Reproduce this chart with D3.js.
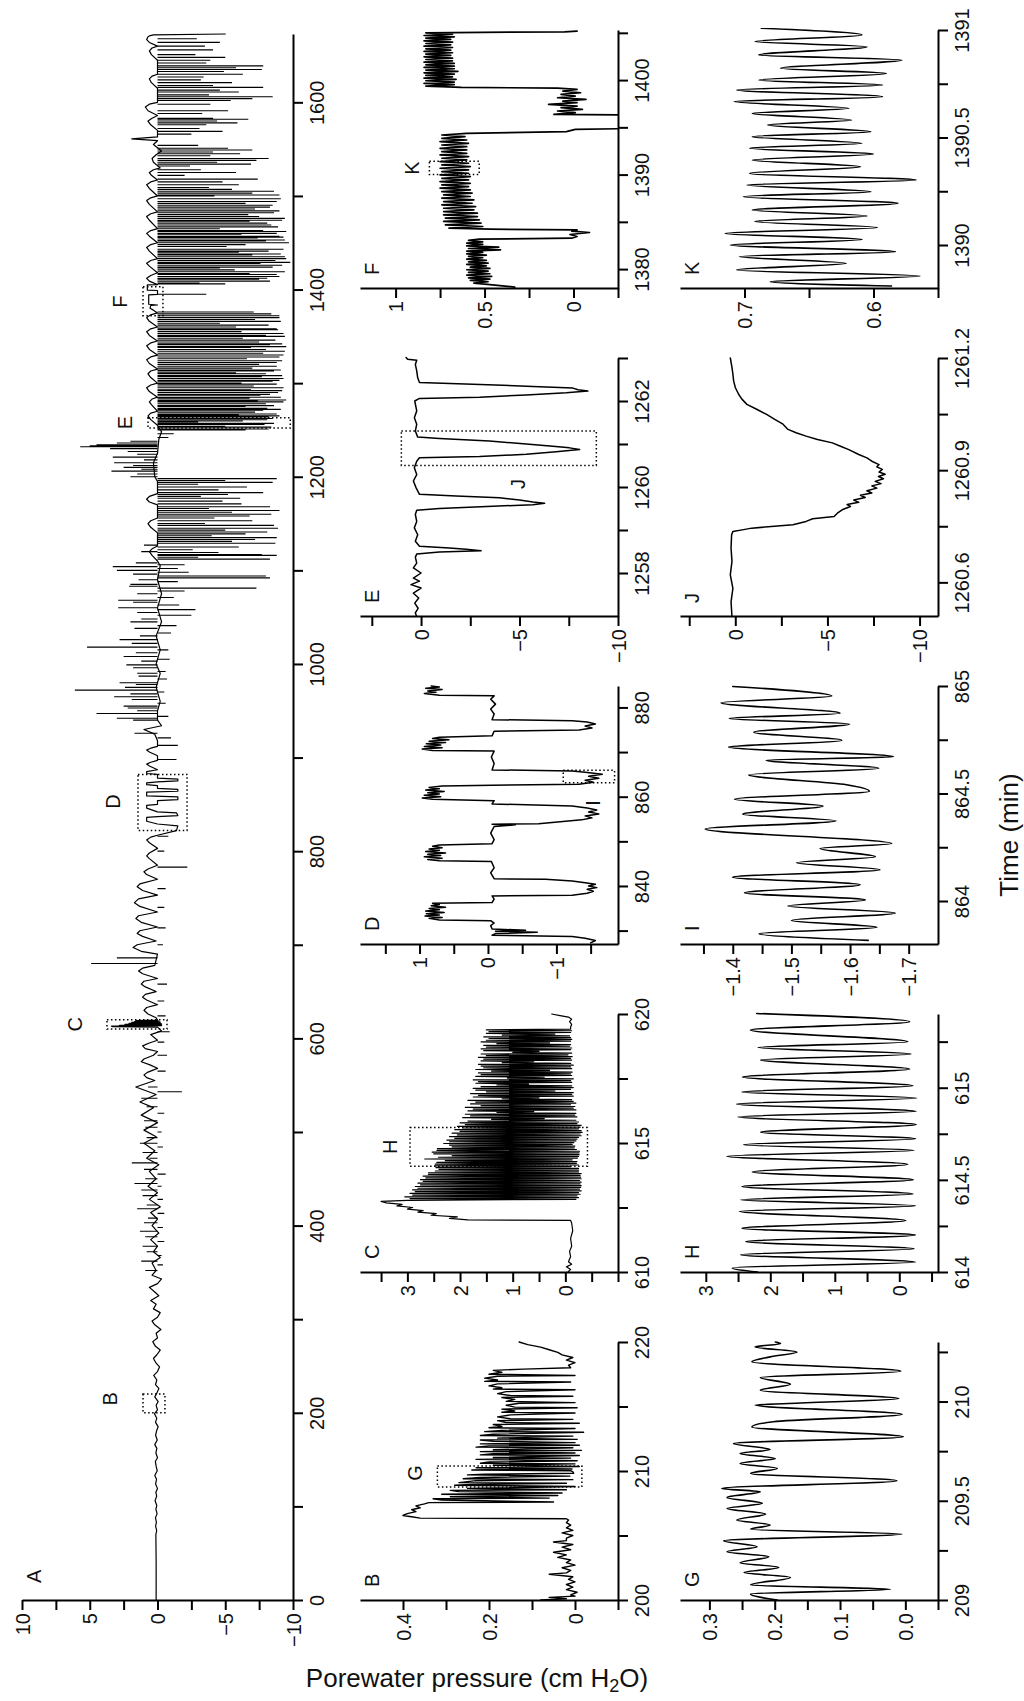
<!DOCTYPE html>
<html>
<head>
<meta charset="utf-8">
<script src="https://cdn.jsdelivr.net/npm/d3@7/dist/d3.min.js"></script>
<style>
html,body{margin:0;padding:0;background:#fff;}
svg{display:block;}
</style>
</head>
<body>
<svg id="chart" width="1024" height="1701"></svg>
<script>
// ================= DATA =================
// ---- tick values & labels ----
const aPTicks = [-10,-7.5,-5,-2.5,0,2.5,5,7.5,10];
const aPLabels = ["−10","−5","0","5","10"];
const aTTicks = [0,100,200,300,400,500,600,700,800,900,1000,1100,1200,1300,1400,1500,1600];
const aTLabels = ["0","200","400","600","800","1000","1200","1400","1600"];
const bPTicks = [-0.1,0,0.1,0.2,0.3,0.4];
const bPLabels = ["0","0.2","0.4"];
const bTTicks = [200,205,210,215,220];
const bTLabels = ["200","210","220"];
const cPTicks = [-1,-0.5,0,0.5,1,1.5,2,2.5,3,3.5];
const cPLabels = ["0","1","2","3"];
const cTTicks = [610,612.5,615,617.5,620];
const cTLabels = ["610","615","620"];
const dPTicks = [-1.5,-1,-0.5,0,0.5,1,1.5];
const dPLabels = ["−1","0","1"];
const dTTicks = [830,840,850,860,870,880];
const dTLabels = ["840","860","880"];
const ePTicks = [-10,-7.5,-5,-2.5,0,2.5];
const ePLabels = ["−10","−5","0"];
const eTTicks = [1258,1259,1260,1261,1262,1263];
const eTLabels = ["1258","1260","1262"];
const fPTicks = [-0.25,0,0.25,0.5,0.75,1];
const fPLabels = ["0","0.5","1"];
const fTTicks = [1380,1385,1390,1395,1400,1405];
const fTLabels = ["1380","1390","1400"];
const gPTicks = [-0.05,0,0.05,0.1,0.15,0.2,0.25,0.3];
const gPLabels = ["0.0","0.1","0.2","0.3"];
const gTTicks = [209,209.25,209.5,209.75,210,210.25];
const gTLabels = ["209","209.5","210"];
const hPTicks = [-0.5,0,0.5,1,1.5,2,2.5,3];
const hPLabels = ["0","1","2","3"];
const hTTicks = [614,614.25,614.5,614.75,615,615.25];
const hTLabels = ["614","614.5","615"];
const iPTicks = [-1.7,-1.65,-1.6,-1.55,-1.5,-1.45,-1.4,-1.35];
const iPLabels = ["−1.7","−1.6","−1.5","−1.4"];
const iTTicks = [864,864.25,864.5,864.75,865];
const iTLabels = ["864","864.5","865"];
const jPTicks = [-10,-7.5,-5,-2.5,0,2.5];
const jPLabels = ["−10","−5","0"];
const jTTicks = [1260.6,1260.75,1260.9,1261.05,1261.2];
const jTLabels = ["1260.6","1260.9","1261.2"];
const kPTicks = [0.55,0.6,0.65,0.7];
const kPLabels = ["0.6","0.7"];
const kTTicks = [1390,1390.25,1390.5,1390.75,1391];
const kTLabels = ["1390","1390.5","1391"];

// ---- Panel A: [time (min), pressure (cm H2O)] ----
const aBase = [[0,0.1],[40,0.1],[70,0.12],[74,0.06],[79,0.14],[83,0.08],[88,0.15],[92,0.03],[97,0.12],[101,0.05],[106,0.18],[111,0.06],[115,0.12],[119,0.0],[124,0.14],[129,0.07],[133,0.2],[138,0.02],[143,0.1],[148,0.16],[152,0.0],[157,0.12],[162,0.05],[166,0.2],[171,0.02],[176,0.14],[181,0.06],[185,-0.05],[190,0.15],[194,0.05],[199,0.22],[203,0.0],[208,0.1],[212,-0.05],[217,0.2],[221,0.05],[226,-0.1],[230,0.15],[235,0.05],[240,0.28],[244,0.0],[249,-0.15],[253,0.1],[258,0.3],[262,0.05],[267,-0.2],[271,0.15],[276,0.35],[280,0.0],[285,0.1],[289,-0.25],[294,0.2],[298,0.4],[302,0.0],[307,-0.2],[311,0.3],[316,0.1],[320,0.5],[325,-0.1],[329,0.2],[334,0.6],[338,0.0],[343,-0.3],[347,0.4],[352,0.1],[360,0.4],[366,-0.2],[372,0.3],[378,0.0],[385,0.5],[392,-0.1],[400,0.4],[407,0.0],[414,0.5],[420,-0.2],[428,0.6],[435,0.0],[442,0.7],[450,0.1],[458,0.6],[465,-0.1],[472,0.8],[480,0.2],[488,1.0],[495,0.1],[502,1.0],[510,0.0],[518,1.2],[526,0.3],[532,1.3],[540,0.1],[548,1.6],[555,0.2],[558,0.8],[561,1.0],[564,0.7],[568,0.0],[572,0.6],[575,1.2],[578,1.0],[582,0.3],[586,0.0],[589,0.9],[592,1.1],[595,0.6],[598,0.0],[604,0.5],[608,-0.3],[612,0.0],[612.5,3.3],[613,3.4],[613.5,-0.3],[614,2.8],[614.5,-0.3],[615,2.4],[615.5,-0.3],[616,2.1],[616.5,-0.2],[617,1.9],[617.5,-0.2],[618,1.7],[618.5,-0.1],[619,1.6],[619.5,0.0],[622,0.1],[626,0.7],[630,1.0],[633,0.8],[636,0.0],[641,0.8],[644,1.1],[647,0.9],[650,0.1],[655,0.9],[658,1.2],[661,1.0],[664,0.0],[669,1.1],[672,1.4],[675,1.1],[678,0.2],[690,0.0],[693,1.2],[697,1.8],[700,1.5],[704,0.1],[709,1.1],[712,1.5],[715,1.3],[719,0.0],[724,1.2],[728,1.6],[731,1.4],[735,0.0],[741,1.3],[745,1.7],[749,1.4],[753,0.0],[758,1.1],[762,1.5],[765,1.3],[770,0.0],[775,0.8],[778,1.0],[781,0.7],[785,0.0],[792,0.6],[795,0.8],[798,0.6],[803,0.0],[809,0.6],[812,0.8],[815,0.5],[817,0.0],[822,-1.4],[827,-1.5],[829,0.0],[832,0.8],[836,0.8],[837,0.0],[838,-1.5],[841,-1.4],[842,0.0],[846,0.8],[849,0.8],[850,0.0],[854,0.0],[855,-1.5],[858,-1.5],[859,0.8],[863,0.8],[864,-1.5],[866,-1.5],[867,0.0],[870,0.0],[871,0.8],[873,0.8],[874,0.0],[875,-1.5],[877,-1.5],[878,0.0],[882,0.0],[883,0.8],[885,0.8],[887,0.0],[891,0.6],[893,0.8],[895,0.5],[897,0.0],[902,0.0],[906,0.6],[908,0.8],[910,0.5],[912,0.0],[918,0.0],[925,0.2],[930,1.0],[934,-0.3],[940,0.0],[950,0.0],[960,-0.2],[975,0.1],[990,-0.2],[1000,0.1],[1015,-0.2],[1030,0.1],[1045,-0.3],[1060,0.0],[1075,-0.3],[1090,0.0],[1105,-0.2],[1110,0.0],[1116,0.4],[1120,0.6],[1123,0.4],[1126,0.0],[1140,0.0],[1146,0.5],[1150,0.7],[1153,0.5],[1156,0.0],[1170,0.0],[1173,0.6],[1176,0.8],[1179,0.6],[1182,0.0],[1195,0.0],[1200,0.2],[1215,0.3],[1225,0.0],[1240,-0.1],[1248,-0.3],[1255,0.0],[1261,0.5],[1265,0.7],[1268,0.5],[1270,0.0],[1277,0.45],[1280,0.6],[1283,0.4],[1285,0.0],[1291,0.6],[1295,0.8],[1298,0.5],[1300,0.0],[1306,0.5],[1310,0.7],[1313,0.5],[1315,0.0],[1321,0.6],[1325,0.8],[1328,0.5],[1330,0.0],[1336,0.6],[1340,0.8],[1343,0.5],[1345,0.0],[1351,0.6],[1355,0.8],[1358,0.5],[1360,0.0],[1366,0.6],[1370,0.8],[1373,0.5],[1375,0.0],[1378,0.3],[1380,0.55],[1383,0.5],[1383.5,0.0],[1384.3,0.65],[1394.4,0.65],[1394.8,0.0],[1399,0.0],[1399.3,0.75],[1405,0.75],[1405.2,0.0],[1409,0.6],[1412,0.8],[1415,0.5],[1418,0.0],[1425,0.6],[1428,0.8],[1431,0.5],[1433,0.0],[1441,0.6],[1445,0.8],[1448,0.5],[1450,0.0],[1457,0.6],[1460,0.8],[1463,0.5],[1465,0.0],[1474,0.6],[1478,0.8],[1481,0.5],[1483,0.0],[1491,0.6],[1495,0.8],[1498,0.5],[1500,0.0],[1508,0.6],[1512,0.8],[1515,0.5],[1517,0.0],[1522,0.45],[1525,0.6],[1528,0.3],[1530,-0.2],[1536,0.3],[1540,0.4],[1544,0.1],[1548,-0.3],[1555,0.3],[1559,0.0],[1561,1.9],[1563,0.0],[1570,0.0],[1576,0.5],[1580,0.7],[1583,0.4],[1586,0.0],[1591,0.7],[1595,0.9],[1598,0.6],[1600,0.0],[1615,0.0],[1621,0.45],[1625,0.6],[1628,0.4],[1630,0.0],[1645,0.0],[1651,0.45],[1655,0.6],[1658,0.4],[1660,0.0],[1664,0.6],[1667,0.8],[1670,0.7],[1671,0.6],[1672,0.3],[1673,-5.0]];
// sharp spikes: [time, tip pressure], drawn from 0
const aSpikes = [[352,0.9],[358,-0.4],[362,1.2],[368,-0.3],[372,0.8],[378,1.1],[383,-0.5],[388,0.9],[394,1.3],[398,-0.4],[403,1.0],[408,0.7],[413,-0.5],[418,1.5],[422,0.8],[428,-0.4],[432,1.1],[438,1.2],[442,-0.3],[445,1.7],[450,0.9],[455,-0.6],[460,1.0],[467,1.9],[472,0.6],[478,1.1],[484,-0.4],[488,1.3],[494,0.8],[500,-0.3],[505,0.9],[512,1.0],[520,-0.5],[527,0.8],[536,1.2],[543,-1.8],[548,0.7],
[565,-0.6],[582,-0.7],[596,-0.5],[607,-0.9],[624,-0.6],[640,-0.5],[658,-0.7],[680,4.9],[686,3.0],[700,-0.4],[718,-0.6],[740,-0.5],[760,-0.6],[783,-2.2],[800,-0.5],[816,-0.8],[898,-1.4],[913,-1.5],[921,-1.0],[926,1.7],
[940,1.8],[942,3.0],[944,-0.8],[947,4.5],[950,1.5],[953,2.2],[955,2.5],[958,-0.6],[962,1.9],[965,3.2],[968,2.0],[970,-0.5],[972,6.1],[975,2.4],[978,1.6],[980,2.8],[984,-0.7],[987,1.4],[990,1.5],[992,-0.6],[996,1.8],[999,2.3],[1003,1.2],[1005,-0.9],[1008,2.5],[1012,1.6],[1015,-0.8],[1018,5.2],[1022,1.9],[1026,2.8],[1030,1.3],[1033,-1.0],[1038,1.7],[1041,-1.4],[1045,2.0],[1048,1.2],[1052,-2.5],[1055,1.5],[1058,-2.8],[1060,2.9],[1063,-1.6],[1066,1.8],[1068,2.9],[1071,-1.2],[1075,1.5],[1078,-2.0],[1081,-7.3],[1083,2.1],[1085,2.0],[1088,-1.5],[1090,1.4],[1092,-8.3],[1094,-8.0],[1096,1.8],[1098,-2.3],[1100,3.0],[1102,-1.5],[1104,3.3],[1106,-2.0],[1108,1.6],
[1112,-8.3],[1114,-3.0],[1116,-8.8],[1117,-7.7],[1119,-4.5],[1120,1.2],[1122,-2.6],[1125,-6.0],[1127,1.0],[1129,-8.7],[1131,-5.5],[1133,-7.2],[1135,-8.8],[1137,-4.0],[1139,-6.5],[1141,-8.1],[1143,-5.0],[1145,-8.9],[1148,-8.6],[1150,-3.5],[1153,-7.0],[1156,-4.2],[1158,-6.8],[1160,-8.4],[1162,-5.5],[1164,-9.0],[1166,-3.8],[1168,-8.3],[1171,-6.2],[1174,-4.8],[1177,-6.1],[1179,-3.2],[1181,-5.2],[1183,-7.8],[1186,-4.5],[1189,-6.6],[1192,-3.0],[1194,-8.5],[1196,-5.0],[1198,-8.8],[1200,2.0],[1203,1.5],[1206,3.4],[1208,1.2],[1210,2.5],[1212,1.8],[1215,3.2],[1218,1.0],[1221,3.3],[1224,1.5],[1227,2.2],[1230,3.5],[1232,5.7],[1233,5.0],[1234,4.5],[1236,3.0],[1238,2.0],[1242,-0.8],[1246,-1.2],[1250,-6.5],
[1251,-8.2],[1253,-8.4],[1254,-5.0],[1256,-7.9],[1257,-8.6],[1258.5,-3.0],[1259.6,-6.3],[1260.9,-8.1],[1262.2,-8.5],[1264,-8.2],[1265,-9.0],[1266,-6.0],[1267,-8.8],[1269,-7.2],[1271,-7.8],[1272,-9.1],[1273,-8.1],[1275,-6.5],[1276,-8.6],[1278,-8.0],[1280,-9.3],[1281,-7.4],[1282,-9.5],[1284,-6.8],[1285,-9.1],[1287,-7.6],[1288,-8.3],[1290,-8.9],[1292,-9.2],[1293,-6.9],[1295,-9.3],[1297,-7.1],[1299,-8.8],[1300,-6.2],[1302,-8.5],[1303,-9.0],[1305,-9.3],[1307,-7.7],[1308,-9.2],[1310,-8.0],[1311,-5.8],[1313,-8.6],[1314,-9.1],[1316,-7.0],[1318,-8.8],[1320,-7.5],[1322,-8.8],[1324,-9.2],[1326,-6.6],[1328,-9.0],[1330,-9.3],[1332,-7.8],[1334,-9.4],[1336,-8.0],[1338,-6.9],[1339,-9.5],[1341,-8.3],[1342,-9.2],[1344,-7.5],[1346,-8.7],[1348,-6.3],[1350,-9.4],[1351,-8.0],[1353,-9.3],[1355,-6.2],[1357,-8.9],[1358,-8.8],[1360,-5.8],[1362,-8.2],[1364,-4.6],[1366,-9.1],[1368,-7.2],[1370,-9.0],[1372,-9.0],[1374,-8.4],[1376,-7.1],[1395,-3.6],[1406,-5.0],[1407,-3.1],[1409,-8.3],[1411,-7.5],[1412,-8.1],[1414,-9.0],[1416,-8.8],[1417,-6.8],[1419,-9.4],[1421,-5.7],[1423,-4.6],[1424,-8.5],
[1426,-9.2],[1428,-7.6],[1429,-9.8],[1431,-8.7],[1433,-9.5],[1435,-9.4],[1437,-7.0],[1438,-9.1],[1440,-6.0],[1441,-8.2],[1443,-9.3],[1446,-5.1],[1448,-6.5],[1450,-9.7],[1452,-8.0],[1453,-9.4],[1455,-7.4],[1456,-9.3],[1457,-9.0],[1459,-6.2],[1460,-8.8],[1462,-9.5],[1463,-7.8],[1465,-4.6],[1467,-8.9],[1469,-8.4],[1471,-8.1],[1473,-6.8],[1474,-9.2],[1476,-9.4],[1478,-7.5],[1480,-6.7],[1482,-8.6],[1484,-9.0],[1486,-7.2],[1488,-8.3],[1490,-8.5],[1492,-6.5],[1494,-8.8],[1497,-9.1],[1500,-4.2],[1501,-9.0],[1503,-7.0],[1505,-8.6],[1507,-5.5],[1509,-3.8],[1512,-6.0],[1515,-4.8],[1518,-7.4],[1522,-2.0],[1525,-5.8],[1528,-3.2],[1532,-2.4],[1534,-6.9],[1536,-4.4],[1538,-7.3],[1540,-8.2],[1543,-3.9],[1545,-6.1],[1547,-4.1],[1549,-7.0],[1551,-5.2],[1554,-3.0],
[1566,-2.5],[1569,-4.8],[1572,-3.1],[1576,-3.6],[1578,-5.9],[1580,-4.4],[1582,-6.7],[1583,-4.1],[1588,-3.3],[1591,-5.2],[1598,-3.9],[1602,-5.4],[1604,-7.0],[1606,-8.5],[1608,-3.8],[1611,-6.0],[1613,-4.6],[1616,-7.8],[1618,-4.1],[1621,-5.5],[1624,-3.2],[1627,-3.4],[1630,-6.3],[1633,-4.9],[1635,-7.7],[1637,-5.8],[1639,-7.8],[1642,-3.6],[1645,-3.9],[1648,-5.0],[1651,-2.8],[1656,-4.1],[1660,-3.5],[1664,-4.6],[1668,-2.9]];

// ---- Panel B ----
const bBand = [[200.0,0.08],[200.1,0.02],[200.2,0.06],[200.3,0.0],[200.4,0.01],[200.6,-0.005],[200.8,0.02],[201.0,0.005],[201.2,0.02],[201.4,0.0],[201.6,0.015],[201.8,0.005],[202.0,0.06],[202.1,0.02],[202.3,0.01],[202.5,0.03],[202.7,0.0],[202.9,0.02],[203.1,0.01],[203.3,0.04],[203.5,0.02],[203.7,0.05],[203.9,0.01],[204.1,0.03],[204.3,0.005],[204.5,0.05],[204.6,0.02],[204.8,0.02],[205.0,0.005],[205.2,0.03],[205.4,0.005],[205.6,0.02],[205.8,0.01],[206.0,0.02],[206.2,0.015],[206.3,0.02],[206.35,0.36],[206.45,0.38],[206.55,0.40],[206.7,0.39],[206.85,0.37],[207.0,0.38],[207.15,0.36],[207.3,0.37],[207.45,0.35],[207.55,0.34],[207.75,0.31],[207.85,0.33],[208.0,0.29],[208.2,0.31],[208.4,0.27],[208.5,0.29],[208.65,0.25],[208.9,0.28],[208.95,0.24],[209.1,0.27],[209.25,0.23],[209.4,0.26],[209.5,0.22],[209.7,0.25],[209.75,0.21],[210.08,0.24],[210.1,0.2],[210.25,0.23],[210.45,0.19],[210.6,0.22],[210.7,0.2],[210.9,0.23],[211.05,0.19],[211.25,0.22],[211.35,0.19],[211.5,0.22],[211.65,0.19],[211.85,0.23],[211.95,0.2],[212.1,0.22],[212.3,0.19],[212.4,0.22],[212.55,0.18],[212.75,0.22],[212.85,0.19],[213.05,0.21],[213.15,0.17],[213.35,0.2],[213.45,0.17],[213.6,0.19],[213.75,0.16],[213.9,0.18],[214.05,0.15],[214.2,0.18],[214.35,0.15],[214.55,0.17],[214.65,0.14],[214.8,0.17],[214.95,0.14],[215.1,0.16],[215.25,0.13],[215.4,0.16],[215.55,0.14],[215.7,0.17],[215.85,0.15],[216.0,0.18],[216.15,0.16],[216.35,0.19],[216.45,0.17],[216.6,0.2],[216.75,0.18],[216.95,0.21],[217.05,0.18],[217.2,0.21],[217.35,0.18],[217.5,0.2],[217.65,0.17],[217.8,0.19],[217.9,0.12],[218.0,0.01],[218.2,0.015],[218.4,0.0],[218.6,0.02],[218.8,0.005],[219.0,0.03],[219.2,0.04],[219.4,0.06],[219.6,0.08],[219.8,0.11],[220.0,0.13]];
const bDips = [[207.6,0.05],[207.9,0.06],[208.1,0.04],[208.3,0.03],[208.55,0.02],[208.8,0.0],[209.05,0.02],[209.33,0.005],[209.6,0.012],[209.82,0.003],[209.94,0.005],[210.02,0.01],[210.15,0.007],[210.35,-0.01],[210.55,0.0],[210.8,-0.005],[211.0,0.01],[211.2,-0.01],[211.4,0.0],[211.6,-0.015],[211.8,0.005],[212.0,-0.01],[212.2,0.0],[212.45,-0.005],[212.7,0.005],[213.0,-0.02],[213.3,0.0],[213.7,-0.01],[214.0,0.005],[214.5,0.0],[214.9,-0.005],[215.3,0.0],[215.8,0.005],[216.3,0.0],[216.9,0.01],[217.4,0.0]];

// ---- Panel C ----
const cPre = [[610,-0.05],[610.1,-0.1],[610.2,-0.02],[610.3,-0.12],[610.4,-0.06],[610.6,-0.1],[610.8,-0.08],[611.0,-0.12],[611.3,-0.1],[611.6,-0.14],[611.9,-0.12],[612.0,-0.1]];
const cRamp = [[612.02,1.85],[612.08,2.2],[612.14,2.05],[612.2,2.55],[612.26,2.45],[612.32,2.8],[612.38,2.7],[612.44,3.0],[612.5,2.9],[612.56,3.2],[612.62,3.1],[612.68,3.4],[612.74,3.5]];
const cOscSpan = [612.78, 619.45];
const cPeaks = [3.0,2.95,3.05,2.9,2.95,2.85,2.9,2.8,2.85,2.75,2.8,2.7,2.75,2.65,2.7,2.6,2.6,2.47,2.4,2.46,2.48,2.47,2.44,2.28,2.67,2.41,2.15,2.5,2.53,2.44,2.43,2.15,2.2,2.31,2.2,2.25,2.1,2.2,2.05,2.15,2.0,2.1,1.95,2.05,1.9,2.0,1.85,1.4,1.95,1.8,1.9,1.3,1.85,1.75,1.9,1.6,1.8,1.7,1.85,1.2,1.75,1.65,1.8,1.5,1.7,1.75,1.6,1.3,1.7,1.65,1.75,1.1,1.7,1.6,1.65,1.4,1.7,1.55,1.6,1.65,1.2,1.6,1.55,1.65,1.5,1.6,1.0,1.55,1.6,1.5,1.55,1.3,1.6,1.5,1.45,1.55,1.2,1.5,1.45,1.5];
const cTroughs = [-0.2,-0.25,-0.22,-0.28,-0.25,-0.3,-0.27,-0.29,-0.3,-0.28,-0.3,-0.27,-0.3,-0.29,-0.28,-0.3,-0.25,-0.25,-0.25,-0.1,-0.25,-0.21,-0.22,-0.13,-0.23,-0.25,-0.26,-0.26,-0.27,-0.21,-0.17,-0.18,-0.13,-0.16,-0.2,-0.22,-0.25,-0.3,-0.28,-0.32,-0.3,-0.25,-0.28,-0.3,-0.22,-0.25,-0.2,0.4,-0.22,-0.18,-0.2,0.6,-0.2,-0.15,-0.18,-0.1,-0.2,-0.15,-0.12,0.5,-0.15,-0.12,-0.15,0.2,-0.1,-0.15,-0.12,0.7,-0.12,-0.1,-0.15,0.4,-0.12,-0.1,-0.13,0.3,-0.12,-0.1,-0.15,-0.1,0.6,-0.12,-0.1,-0.13,-0.05,-0.12,0.5,-0.1,-0.12,-0.08,-0.1,0.3,-0.1,-0.12,-0.1,-0.08,0.2,-0.1,-0.12,-0.1];
const cPost = [[619.5,-0.1],[619.6,-0.12],[619.7,-0.08],[619.8,-0.12],[619.88,-0.06],[619.94,0.1],[620,0.26]];

// ---- Panel D ----
const dSeries = [[827.26,-1.5],[827.78,-1.57],[828.3,-1.42],[828.67,-1.23],[828.96,-0.06],[829.33,-0.11],[829.63,-0.72],[829.85,-0.11],[830.07,-0.55],[830.37,-0.06],[831.11,-0.04],[831.7,-0.09],[832.22,-0.04],[832.37,0.71],[832.74,0.86],[832.96,0.67],[833.26,0.92],[833.48,0.71],[833.78,0.9],[834.07,0.64],[834.37,0.91],[834.67,0.71],[834.96,0.86],[835.26,0.62],[835.56,0.83],[835.85,0.71],[836.15,0.81],[836.3,-0.06],[837.04,-0.09],[837.78,-0.06],[837.93,-1.23],[838.37,-1.45],[838.81,-1.54],[839.26,-1.45],[839.63,-1.59],[840.0,-1.47],[840.37,-1.57],[840.74,-1.42],[841.11,-1.23],[841.48,-0.84],[841.63,-0.09],[842.96,-0.04],[844.07,-0.09],[845.48,-0.05],[845.63,0.71],[845.93,0.88],[846.22,0.67],[846.52,0.93],[846.81,0.69],[847.11,0.88],[847.41,0.62],[847.7,0.91],[848.0,0.71],[848.3,0.86],[848.59,0.67],[848.89,0.81],[849.19,0.71],[849.48,-0.06],[850.37,-0.09],[851.85,-0.04],[853.33,-0.09],[853.7,-0.4],[853.85,-0.06],[853.93,-0.74],[854.81,-1.37],[855.26,-1.52],[855.7,-1.42],[856.15,-1.62],[856.59,-1.47],[857.04,-1.59],[857.48,-1.45],[857.93,-1.23],[858.37,-0.06],[859.11,-0.09],[859.41,0.81],[859.7,0.96],[860.0,0.69],[860.3,0.93],[860.59,0.71],[860.89,0.88],[861.19,0.64],[861.48,0.91],[861.78,0.71],[862.07,0.86],[862.37,0.67],[862.59,-0.06],[862.81,-1.33],[863.26,-1.54],[863.7,-1.42],[864.15,-1.62],[864.59,-1.47],[865.04,-1.67],[865.48,-1.42],[865.78,-1.23],[866.0,-0.06],[867.41,-0.09],[868.89,-0.05],[870.22,-0.09],[870.37,0.81],[870.67,0.96],[870.96,0.67],[871.26,0.93],[871.56,0.69],[871.85,0.9],[872.15,0.62],[872.44,0.86],[872.74,0.57],[873.04,0.81],[873.33,0.71],[873.63,-0.06],[874.67,-0.09],[874.96,-1.33],[875.41,-1.52],[875.85,-1.42],[876.3,-1.57],[876.74,-1.45],[877.04,-1.23],[877.26,-0.06],[878.52,-0.09],[879.63,-0.04],[880.74,-0.11],[881.85,-0.04],[882.59,-0.09],[882.74,0.71],[883.11,0.93],[883.41,0.76],[883.7,0.88],[884.0,0.67],[884.3,0.91],[884.59,0.71],[884.81,0.83]];

// ---- Panel E ----
const eSeries = [[1256.99,0.22],[1257.07,0.29],[1257.18,0.15],[1257.3,0.32],[1257.42,0.12],[1257.53,0.39],[1257.65,0.0],[1257.73,0.51],[1257.81,0.08],[1257.88,0.39],[1258.0,0.0],[1258.12,0.39],[1258.23,0.22],[1258.37,0.29],[1258.44,0.22],[1258.49,-0.93],[1258.52,-3.05],[1258.55,-2.29],[1258.58,-1.44],[1258.62,0.08],[1258.74,0.29],[1258.89,0.17],[1259.05,0.34],[1259.2,0.22],[1259.36,0.29],[1259.46,0.22],[1259.5,-0.93],[1259.55,-3.64],[1259.59,-5.68],[1259.62,-6.27],[1259.65,-5.68],[1259.7,-5.0],[1259.75,-3.98],[1259.79,-1.78],[1259.83,0.08],[1259.98,0.25],[1260.14,0.39],[1260.29,0.22],[1260.45,0.34],[1260.6,0.22],[1260.68,0.08],[1260.71,-2.97],[1260.76,-5.34],[1260.82,-6.86],[1260.87,-8.05],[1260.91,-7.54],[1260.95,-6.69],[1261.0,-5.34],[1261.07,-3.47],[1261.13,-0.93],[1261.16,0.17],[1261.3,0.29],[1261.46,0.22],[1261.61,0.34],[1261.77,0.22],[1262.0,0.32],[1262.06,0.08],[1262.09,-2.97],[1262.14,-5.34],[1262.19,-7.37],[1262.23,-8.47],[1262.26,-7.97],[1262.3,-7.71],[1262.34,-5.68],[1262.39,-2.63],[1262.43,0.08],[1262.54,0.17],[1262.7,0.22],[1262.85,0.29],[1262.95,0.22],[1262.97,0.68],[1263.01,0.76]];

// ---- Panel F ----
const fSeries = [[1378.1,0.33],[1378.35,0.47],[1378.52,0.56],[1378.66,0.48],[1378.8,0.58],[1378.94,0.47],[1379.08,0.59],[1379.23,0.46],[1379.37,0.6],[1379.51,0.47],[1379.65,0.59],[1379.79,0.48],[1379.93,0.6],[1380.07,0.47],[1380.21,0.58],[1380.35,0.49],[1380.49,0.6],[1380.63,0.48],[1380.77,0.59],[1380.92,0.49],[1381.06,0.6],[1381.2,0.51],[1381.34,0.59],[1381.48,0.49],[1381.62,0.6],[1381.76,0.51],[1381.9,0.6],[1382.04,0.41],[1382.18,0.59],[1382.32,0.42],[1382.46,0.6],[1382.61,0.51],[1382.75,0.6],[1382.89,0.51],[1383.03,0.59],[1383.17,0.53],[1383.27,0.01],[1383.45,-0.02],[1383.66,0.02],[1383.87,-0.09],[1384.01,0.01],[1384.15,-0.02],[1384.23,0.47],[1384.33,0.7],[1384.51,0.51],[1384.68,0.72],[1384.86,0.52],[1385.04,0.73],[1385.21,0.53],[1385.39,0.72],[1385.56,0.54],[1385.74,0.73],[1385.92,0.54],[1386.09,0.73],[1386.27,0.56],[1386.44,0.73],[1386.62,0.55],[1386.8,0.74],[1386.97,0.57],[1387.15,0.73],[1387.32,0.56],[1387.5,0.74],[1387.68,0.58],[1387.85,0.73],[1388.03,0.57],[1388.2,0.74],[1388.38,0.58],[1388.56,0.75],[1388.73,0.59],[1388.91,0.74],[1389.08,0.58],[1389.26,0.75],[1389.44,0.59],[1389.61,0.74],[1389.79,0.58],[1389.96,0.75],[1390.14,0.59],[1390.32,0.74],[1390.49,0.59],[1390.67,0.75],[1390.85,0.58],[1391.02,0.74],[1391.2,0.59],[1391.37,0.75],[1391.55,0.6],[1391.73,0.74],[1391.9,0.59],[1392.08,0.75],[1392.25,0.6],[1392.43,0.74],[1392.61,0.6],[1392.78,0.75],[1392.96,0.6],[1393.13,0.74],[1393.31,0.59],[1393.49,0.75],[1393.66,0.6],[1393.84,0.74],[1394.01,0.61],[1394.19,0.74],[1394.37,0.6],[1394.54,0.04],[1394.79,-0.01],[1394.89,-0.41],[1396.3,-0.41],[1396.37,0.11],[1396.55,-0.01],[1396.73,0.09],[1396.9,-0.05],[1397.08,0.07],[1397.25,-0.02],[1397.43,0.14],[1397.61,-0.02],[1397.78,0.06],[1397.96,-0.07],[1398.13,0.09],[1398.31,-0.01],[1398.49,0.07],[1398.66,-0.04],[1398.84,0.06],[1399.01,-0.02],[1399.15,0.09],[1399.23,0.63],[1399.37,0.83],[1399.51,0.67],[1399.65,0.84],[1399.79,0.67],[1399.93,0.83],[1400.07,0.66],[1400.21,0.84],[1400.35,0.68],[1400.49,0.83],[1400.63,0.67],[1400.77,0.84],[1400.92,0.65],[1401.06,0.83],[1401.2,0.67],[1401.34,0.84],[1401.48,0.67],[1401.62,0.83],[1401.76,0.67],[1401.9,0.84],[1402.04,0.68],[1402.18,0.83],[1402.32,0.68],[1402.46,0.84],[1402.61,0.69],[1402.75,0.83],[1402.89,0.68],[1403.03,0.84],[1403.17,0.69],[1403.31,0.83],[1403.45,0.68],[1403.59,0.84],[1403.73,0.69],[1403.87,0.83],[1404.01,0.68],[1404.15,0.84],[1404.3,0.69],[1404.44,0.83],[1404.58,0.67],[1404.72,0.84],[1404.86,0.68],[1405.0,0.83],[1405.11,0.05],[1405.18,-0.02]];

// ---- Panel G ----
const gSeries = [[209.0,0.196],[209.03,0.237],[209.054,0.023],[209.076,0.237],[209.114,0.176],[209.138,0.247],[209.164,0.194],[209.188,0.253],[209.218,0.209],[209.243,0.273],[209.268,0.227],[209.299,0.278],[209.332,0.005],[209.356,0.237],[209.378,0.207],[209.403,0.258],[209.433,0.214],[209.461,0.273],[209.487,0.219],[209.517,0.273],[209.545,0.222],[209.562,0.281],[209.601,0.013],[209.638,0.237],[209.663,0.196],[209.688,0.253],[209.713,0.199],[209.738,0.253],[209.758,0.207],[209.789,0.263],[209.822,0.003],[209.872,0.235],[209.898,0.202],[209.936,0.005],[209.982,0.23],[209.99,0.179],[210.015,0.01],[210.057,0.222],[210.087,0.176],[210.121,0.222],[210.153,0.007],[210.2,0.235],[210.225,0.207],[210.25,0.166],[210.275,0.23],[210.292,0.191],[210.3,0.199]];

// ---- Panel H ----
const hSeries = [[614.0,2.2],[614.022,2.59],[614.054,-0.25],[614.094,2.46],[614.126,-0.23],[614.165,2.38],[614.201,-0.25],[614.237,2.44],[614.279,-0.1],[614.329,2.48],[614.36,-0.25],[614.392,2.46],[614.423,-0.21],[614.464,2.44],[614.5,-0.22],[614.543,2.28],[614.585,-0.13],[614.628,2.67],[614.66,-0.23],[614.691,2.41],[614.723,-0.25],[614.759,2.15],[614.8,-0.26],[614.842,2.5],[614.872,-0.26],[614.912,2.52],[614.944,-0.27],[614.977,2.44],[615.011,-0.21],[615.058,2.43],[615.101,-0.16],[615.151,2.15],[615.183,-0.18],[615.218,2.19],[615.25,-0.13],[615.313,2.31],[615.358,-0.16],[615.403,2.21]];

// ---- Panel I ----
const iSeries = [[863.817,-1.631],[863.848,-1.445],[863.878,-1.646],[863.909,-1.5],[863.944,-1.677],[863.977,-1.494],[864.005,-1.626],[864.038,-1.42],[864.076,-1.617],[864.111,-1.4],[864.145,-1.651],[864.178,-1.509],[864.206,-1.643],[864.244,-1.549],[864.267,-1.671],[864.335,-1.353],[864.373,-1.576],[864.404,-1.417],[864.442,-1.554],[864.473,-1.403],[864.511,-1.633],[864.541,-1.594],[864.587,-1.427],[864.617,-1.649],[864.655,-1.457],[864.671,-1.674],[864.716,-1.393],[864.747,-1.586],[864.785,-1.436],[864.823,-1.599],[864.849,-1.394],[864.873,-1.583],[864.922,-1.38],[864.953,-1.569],[864.998,-1.4]];

// ---- Panel J ----
const jSeries = [[1260.508,0.18],[1260.548,0.23],[1260.584,0.13],[1260.62,0.27],[1260.656,0.18],[1260.691,0.23],[1260.727,0.2],[1260.736,0.13],[1260.741,-0.45],[1260.745,-0.89],[1260.754,-3.13],[1260.763,-3.84],[1260.77,-4.2],[1260.776,-5.36],[1260.785,-5.54],[1260.794,-5.8],[1260.803,-6.25],[1260.808,-6.07],[1260.814,-6.7],[1260.82,-6.43],[1260.827,-7.05],[1260.833,-6.79],[1260.839,-7.41],[1260.845,-7.14],[1260.852,-7.68],[1260.858,-7.41],[1260.864,-7.91],[1260.87,-7.59],[1260.877,-8.04],[1260.883,-7.77],[1260.889,-8.13],[1260.895,-7.8],[1260.902,-7.98],[1260.909,-7.68],[1260.915,-7.8],[1260.924,-7.41],[1260.933,-7.14],[1260.942,-6.7],[1260.955,-6.16],[1260.964,-5.71],[1260.973,-5.27],[1260.982,-4.46],[1260.991,-3.84],[1261.0,-3.3],[1261.009,-2.86],[1261.023,-2.59],[1261.036,-2.14],[1261.049,-1.7],[1261.063,-1.16],[1261.076,-0.63],[1261.09,-0.36],[1261.103,-0.18],[1261.121,0.0],[1261.139,0.09],[1261.157,0.13],[1261.175,0.18],[1261.2,0.27]];

// ---- Panel K ----
const kSeries = [[1389.809,0.586],[1389.829,0.68],[1389.856,0.564],[1389.884,0.706],[1389.915,0.621],[1389.946,0.704],[1389.969,0.583],[1390.0,0.711],[1390.026,0.609],[1390.054,0.715],[1390.081,0.597],[1390.109,0.692],[1390.135,0.605],[1390.163,0.694],[1390.194,0.581],[1390.225,0.701],[1390.248,0.602],[1390.279,0.698],[1390.302,0.567],[1390.333,0.696],[1390.364,0.61],[1390.395,0.694],[1390.423,0.6],[1390.45,0.696],[1390.473,0.609],[1390.504,0.694],[1390.527,0.602],[1390.558,0.682],[1390.581,0.617],[1390.612,0.694],[1390.636,0.619],[1390.667,0.708],[1390.69,0.593],[1390.721,0.706],[1390.744,0.593],[1390.767,0.689],[1390.798,0.59],[1390.822,0.672],[1390.86,0.578],[1390.884,0.689],[1390.922,0.605],[1390.946,0.692],[1390.977,0.609],[1391.008,0.687]];

// ---- zoom boxes: time range, pressure range, label position (time, pressure) ----
const aBoxes = [
  {name:"B", t:[200,220], p:[-0.55,1.07], lt:215, lp:3.0},
  {name:"C", t:[610,620], p:[-0.7,3.73], lt:615, lp:5.57},
  {name:"D", t:[822,882], p:[-2.18,1.44], lt:853, lp:2.77},
  {name:"E", t:[1252,1263], p:[-9.8,0.7], lt:1258, lp:1.9},
  {name:"F", t:[1372,1403], p:[-0.4,1.07], lt:1387, lp:2.25}
];
const bBox = {name:"G", t:[208.76,210.39], p:[-0.016,0.32], lt:209.84, lp:0.356};
const cBox = {name:"H", t:[614.1,615.6], p:[-0.42,2.95], lt:614.85, lp:3.2};
const dBox = {name:"I", t:[863.1,865.9], p:[-1.85,-1.1], lt:858.6, lp:-1.64};
const eBox = {name:"J", t:[1260.5,1261.3], p:[-8.9,1.0], lt:1260.07, lp:-5.28};
const fBox = {name:"K", t:[1390,1391.4], p:[0.53,0.81], lt:1390.7, lp:0.87};

// ================= LAYOUT =================
const FONT = "'Liberation Sans', Arial, Helvetica, sans-serif";
const svg = d3.select("#chart");
const defs = svg.append("defs");
const num = s => +s.replace("\u2212", "-");
const near = (a, b) => Math.abs(a - b) < 1e-9;

const C2 = [360, 618], C3 = [680, 938];
const ROWS = {F:[288,30], E:[616,358], D:[944,686], C:[1272,1014], B:[1600,1342]};

function styleAxis(g) {
  g.attr("font-size", 20).attr("font-family", FONT);
  g.select(".domain").attr("stroke", "#000").attr("stroke-width", 2);
  g.selectAll(".tick line").attr("stroke", "#000").attr("stroke-width", 2);
  g.selectAll(".tick text").attr("fill", "#111");
}

function makePanel(P) {
  const px = d3.scaleLinear().domain([P.pDom[1], P.pDom[0]]).range([P.x0, P.x1]);
  const ty = d3.scaleLinear().domain(P.tDom).range([P.yb, P.yt]);
  const id = "clip-" + P.name;
  defs.append("clipPath").attr("id", id).append("rect")
    .attr("x", P.x0 - 1).attr("y", P.yt - 2).attr("width", P.x1 - P.x0 + 1).attr("height", P.yb - P.yt + 3);
  const plot = svg.append("g").attr("clip-path", `url(#${id})`);

  const pv = P.pLabels.map(num);
  const xAxis = d3.axisBottom(px).tickValues(P.pTicks).tickSize(10).tickSizeOuter(0)
    .tickFormat(d => { const i = pv.findIndex(v => near(v, d)); return i >= 0 ? P.pLabels[i] : ""; });
  const gx = svg.append("g").attr("transform", `translate(0,${P.yb})`).call(xAxis);
  styleAxis(gx);
  gx.selectAll(".tick text").attr("x", 0).attr("y", 0).attr("dy", "0.35em")
    .attr("transform", "translate(0,13) rotate(-90)").attr("text-anchor", "end");

  const tv = P.tLabels.map(num);
  const yAxis = d3.axisRight(ty).tickValues(P.tTicks).tickSize(10).tickSizeOuter(0)
    .tickFormat(d => { const i = tv.findIndex(v => near(v, d)); return i >= 0 ? P.tLabels[i] : ""; });
  const gy = svg.append("g").attr("transform", `translate(${P.x1},0)`).call(yAxis);
  styleAxis(gy);
  gy.selectAll(".tick text").attr("x", 0).attr("y", 0).attr("dy", 0)
    .attr("transform", "translate(31,0) rotate(-90)").attr("text-anchor", "middle");

  svg.append("text")
    .attr("transform", `translate(${P.x0 + 19},${P.yb - (P.name === "A" ? 17 : 13)}) rotate(-90)`)
    .attr("text-anchor", "start").attr("font-size", 20).attr("font-family", FONT).attr("fill", "#111")
    .text(P.name);
  return {px, ty, plot};
}

function drawLine(S, data, width, curve) {
  const line = d3.line().x(d => S.px(d[1])).y(d => S.ty(d[0])).curve(curve || d3.curveLinear);
  S.plot.append("path").attr("d", line(data)).attr("fill", "none").attr("stroke", "#000")
    .attr("stroke-width", width).attr("stroke-linejoin", "round").attr("stroke-linecap", "round");
}

function drawBoxes(S, boxes) {
  const g = svg.append("g");
  g.selectAll("rect").data(boxes).join("rect")
    .attr("x", b => S.px(b.p[1])).attr("y", b => S.ty(b.t[1]))
    .attr("width", b => S.px(b.p[0]) - S.px(b.p[1])).attr("height", b => S.ty(b.t[0]) - S.ty(b.t[1]))
    .attr("fill", "none").attr("stroke", "#000").attr("stroke-width", 1.5).attr("stroke-dasharray", "1.5,2.5");
  g.selectAll("text").data(boxes).join("text")
    .attr("transform", b => `translate(${S.px(b.lp)},${S.ty(b.lt)}) rotate(-90)`)
    .attr("text-anchor", "middle").attr("font-size", 20).attr("font-family", FONT).attr("fill", "#111")
    .text(b => b.name);
}

const byTimeDesc = arr => arr.slice().sort((a, b) => b[0] - a[0]);

// ---- Panel A ----
const A = makePanel({name:"A", x0:22, x1:293, yb:1600, yt:34, pDom:[-10,10], tDom:[0,1673],
  pTicks:aPTicks, pLabels:aPLabels, tTicks:aTTicks, tLabels:aTLabels});
drawLine(A, aBase, 1.2);
{
  const sl = d3.line().x(d => A.px(d[1])).y(d => A.ty(d[0]));
  A.plot.append("path").attr("d", aSpikes.map(s => sl([[s[0], 0], s])).join(""))
    .attr("fill", "none").attr("stroke", "#000").attr("stroke-width", 1.1);
}
drawBoxes(A, aBoxes);

// ---- Panel B ----
const B = makePanel({name:"B", x0:C2[0], x1:C2[1], yb:ROWS.B[0], yt:ROWS.B[1], pDom:[-0.1,0.5], tDom:[200,220],
  pTicks:bPTicks, pLabels:bPLabels, tTicks:bTTicks, tLabels:bTLabels});
drawLine(B, bBand.concat(bDips).sort((a, b) => a[0] - b[0]), 1.4);
drawBoxes(B, [bBox]);

// ---- Panel C ----
const C = makePanel({name:"C", x0:C2[0], x1:C2[1], yb:ROWS.C[0], yt:ROWS.C[1], pDom:[-1,3.9], tDom:[610,620],
  pTicks:cPTicks, pLabels:cPLabels, tTicks:cTTicks, tLabels:cTLabels});
{
  const n = Math.min(cPeaks.length, cTroughs.length);
  const per = (cOscSpan[1] - cOscSpan[0]) / n;
  const osc = [];
  for (let i = 0; i < n; i++) {
    osc.push([cOscSpan[0] + i * per, cPeaks[i]]);
    osc.push([cOscSpan[0] + (i + 0.5) * per, cTroughs[i]]);
  }
  drawLine(C, cPre.concat(cRamp, osc, cPost), 1.2);
}
drawBoxes(C, [cBox]);

// ---- Panel D ----
const D = makePanel({name:"D", x0:C2[0], x1:C2[1], yb:ROWS.D[0], yt:ROWS.D[1], pDom:[-1.9,1.87], tDom:[827,884.8],
  pTicks:dPTicks, pLabels:dPLabels, tTicks:dTTicks, tLabels:dTLabels});
drawLine(D, dSeries, 1.5);
drawBoxes(D, [dBox]);

// ---- Panel E ----
const E = makePanel({name:"E", x0:C2[0], x1:C2[1], yb:ROWS.E[0], yt:ROWS.E[1], pDom:[-10,3.1], tDom:[1257,1263],
  pTicks:ePTicks, pLabels:ePLabels, tTicks:eTTicks, tLabels:eTLabels});
drawLine(E, eSeries, 1.5);
drawBoxes(E, [eBox]);

// ---- Panel F ----
const F = makePanel({name:"F", x0:C2[0], x1:C2[1], yb:ROWS.F[0], yt:ROWS.F[1], pDom:[-0.25,1.2], tDom:[1378,1405.3],
  pTicks:fPTicks, pLabels:fPLabels, tTicks:fTTicks, tLabels:fTLabels});
drawLine(F, fSeries, 1.7);
drawBoxes(F, [fBox]);

// ---- Panel G ----
const G = makePanel({name:"G", x0:C3[0], x1:C3[1], yb:ROWS.B[0], yt:ROWS.B[1], pDom:[-0.05,0.345], tDom:[209,210.3],
  pTicks:gPTicks, pLabels:gPLabels, tTicks:gTTicks, tLabels:gTLabels});
drawLine(G, byTimeDesc(gSeries), 1.6, d3.curveMonotoneY);

// ---- Panel H ----
const H = makePanel({name:"H", x0:C3[0], x1:C3[1], yb:ROWS.C[0], yt:ROWS.C[1], pDom:[-0.6,3.4], tDom:[614,615.4],
  pTicks:hPTicks, pLabels:hPLabels, tTicks:hTTicks, tLabels:hTLabels});
drawLine(H, byTimeDesc(hSeries), 1.6, d3.curveMonotoneY);

// ---- Panel I ----
const I = makePanel({name:"I", x0:C3[0], x1:C3[1], yb:ROWS.D[0], yt:ROWS.D[1], pDom:[-1.75,-1.31], tDom:[863.8,865],
  pTicks:iPTicks, pLabels:iPLabels, tTicks:iTTicks, tLabels:iTLabels});
drawLine(I, byTimeDesc(iSeries), 1.6, d3.curveMonotoneY);

// ---- Panel J ----
const J = makePanel({name:"J", x0:C3[0], x1:C3[1], yb:ROWS.E[0], yt:ROWS.E[1], pDom:[-11,3], tDom:[1260.51,1261.2],
  pTicks:jPTicks, pLabels:jPLabels, tTicks:jTTicks, tLabels:jTLabels});
drawLine(J, jSeries, 1.5);

// ---- Panel K ----
const K = makePanel({name:"K", x0:C3[0], x1:C3[1], yb:ROWS.F[0], yt:ROWS.F[1], pDom:[0.55,0.75], tDom:[1389.8,1391],
  pTicks:kPTicks, pLabels:kPLabels, tTicks:kTTicks, tLabels:kTLabels});
drawLine(K, byTimeDesc(kSeries), 1.6, d3.curveMonotoneY);

// ---- axis titles ----
const xt = svg.append("text").attr("x", 477).attr("y", 1687).attr("text-anchor", "middle")
  .attr("font-size", 26).attr("font-family", FONT).attr("fill", "#111");
xt.append("tspan").text("Porewater pressure (cm H");
xt.append("tspan").attr("font-size", 18).attr("dy", 5).text("2");
xt.append("tspan").attr("dy", -5).text("O)");

svg.append("text").attr("transform", "translate(1018,835) rotate(-90)").attr("text-anchor", "middle")
  .attr("font-size", 26).attr("font-family", FONT).attr("fill", "#111").text("Time (min)");
</script>
</body>
</html>
